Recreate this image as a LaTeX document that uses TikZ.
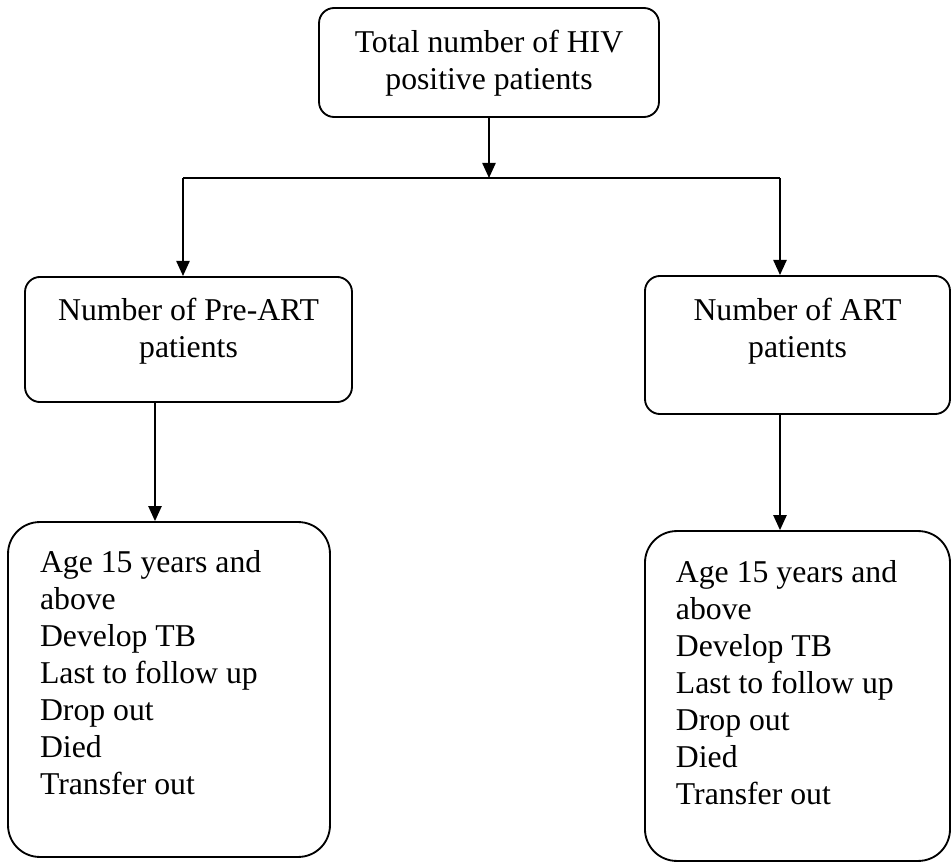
\documentclass[tikz,border=0pt]{standalone}
\usepackage{fontspec}
\setmainfont{Liberation Serif}
\usetikzlibrary{arrows.meta}
\begin{document}
\begin{tikzpicture}[x=0.378pt,y=-0.378pt]
    \tikzstyle{dedge} = [line width=0.7pt,-{Triangle[length=5.7pt,width=5pt]},draw=black]
    \tikzstyle{hedge} = [line width=0.7pt,draw=black]

    \tikzstyle{countbox}=[
      rectangle,
      draw=black,
      line width=0.7pt,
      rounded corners=5.7pt,
      inner sep=0pt,
      font=\fontsize{12}{14}\selectfont,
    ]
    \tikzstyle{listbox}=[countbox, rounded corners=12pt]

    \useasboundingbox (0,0) rectangle (952,863);

    \node[countbox, minimum width=128.5pt, minimum height=41.2pt] (total) at (489,62.5) {
      \parbox[c][41.2pt][t]{128.5pt}{\centering\vspace*{8.3pt}
        Total number of HIV\\
        positive patients}
    };

    \node[countbox, minimum width=123.6pt, minimum height=47.3pt] (prea) at (188.5,339.5) {
      \parbox[c][47.3pt][t]{123.6pt}{\centering\vspace*{8pt}
        Number of Pre-ART\\
        patients}
    };

    \node[countbox, minimum width=115.3pt, minimum height=52.2pt] (art) at (797.5,345) {
      \parbox[c][52.2pt][t]{115.3pt}{\centering\vspace*{8.3pt}
        Number of ART\\
        patients}
    };

    \node[listbox, minimum width=121.7pt, minimum height=126.6pt] (lista) at (169,689.5) {
      \parbox[c][126.6pt][t]{121.7pt}{\raggedright\leftskip=12.1pt\relax\vspace*{10.7pt}
        Age 15 years and\\
        above\\
        Develop TB\\
        Last to follow up\\
        Drop out\\
        Died\\
        Transfer out}
    };

    \node[listbox, minimum width=115.3pt, minimum height=124.7pt] (listb) at (797.5,696) {
      \parbox[c][124.7pt][t]{115.3pt}{\raggedright\leftskip=11.7pt\relax\vspace*{11.1pt}
        Age 15 years and\\
        above\\
        Develop TB\\
        Last to follow up\\
        Drop out\\
        Died\\
        Transfer out}
    };

    \coordinate (split) at (489,178);
    \coordinate (jl) at (183,178);
    \coordinate (jr) at (780,178);
    \coordinate (dl) at (155,0);

    \draw[dedge] (total.south) -- (split);
    \draw[hedge] (jl) -- (jr);
    \draw[dedge] (jl) -- (jl |- prea.north);
    \draw[dedge] (jr) -- (jr |- art.north);
    \draw[dedge] (dl |- prea.south) -- (dl |- lista.north);
    \draw[dedge] (jr |- art.south) -- (jr |- listb.north);
\end{tikzpicture}
\end{document}
